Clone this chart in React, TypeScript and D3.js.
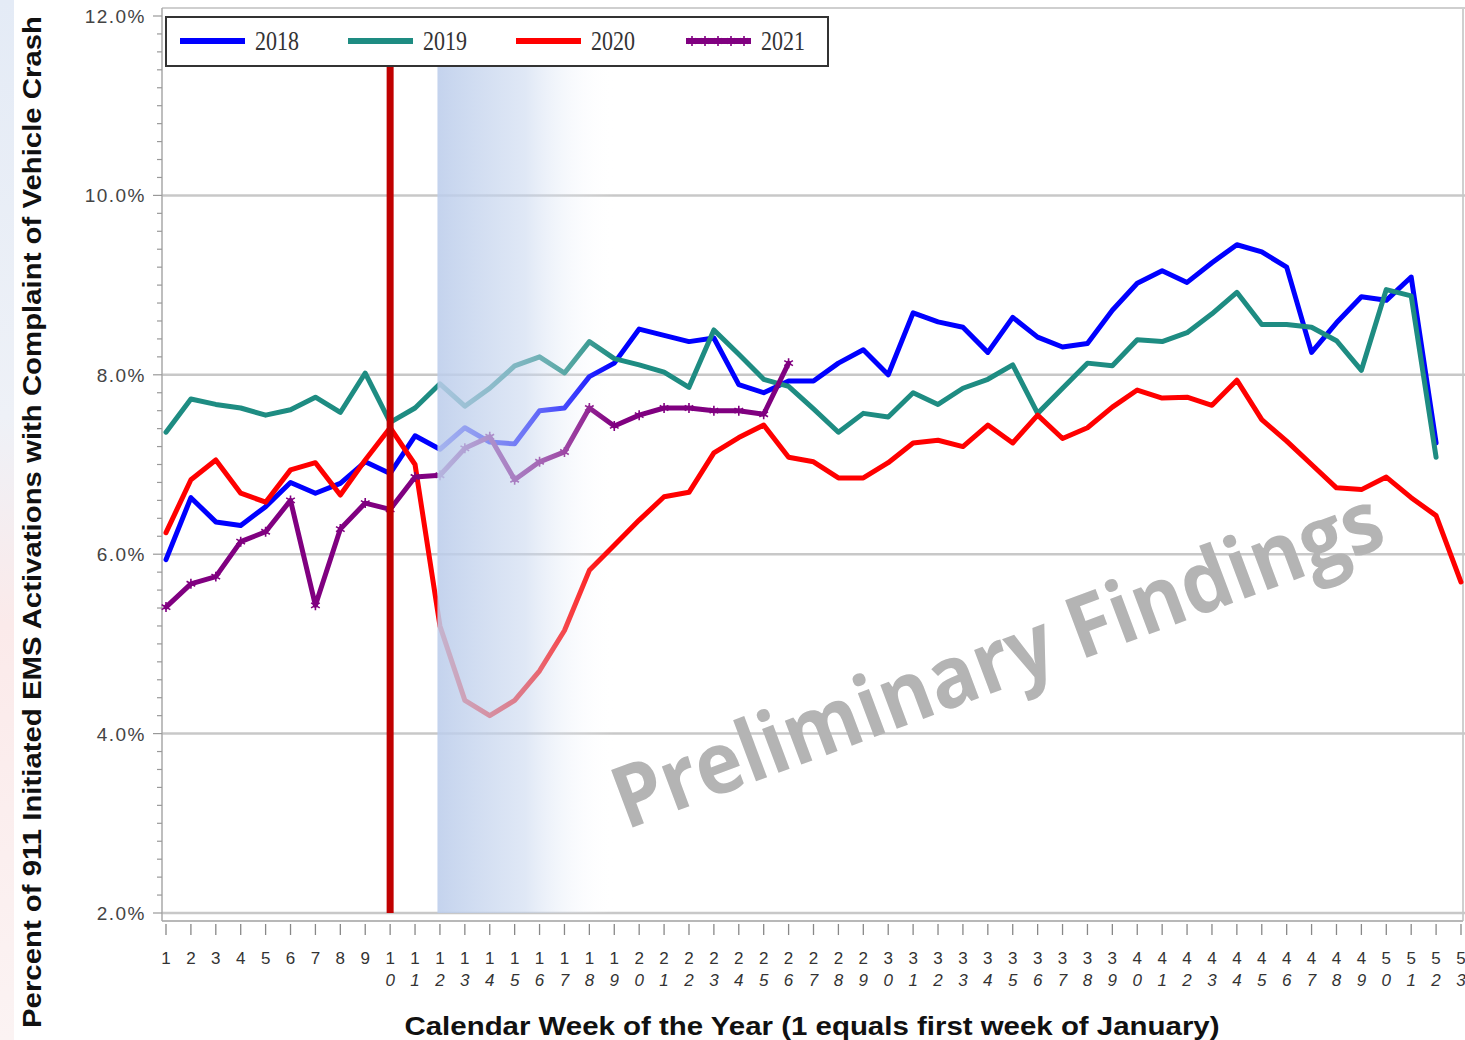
import * as d3 from "d3";
import {useEffect, useRef} from "react";

// weekly percent of 911-initiated EMS activations with vehicle-crash complaint
const weeks = d3.range(1, 54);
const years = ["2018", "2019", "2020", "2021"];
const colors = ["#0000ff", "#1e8c82", "#ff0000", "#800080"];

const pct2018 = [5.94, 6.63, 6.36, 6.32, 6.53, 6.8, 6.68, 6.79, 7.03, 6.9, 7.32, 7.17, 7.41, 7.25, 7.23, 7.6, 7.63, 7.98, 8.13, 8.51,
    8.44, 8.37, 8.41, 7.89, 7.8, 7.93, 7.93, 8.13, 8.28, 8.0, 8.69, 8.59, 8.53, 8.25, 8.64, 8.42, 8.31, 8.35, 8.72, 9.02,
    9.16, 9.03, 9.25, 9.45, 9.37, 9.2, 8.25, 8.58, 8.87, 8.83, 9.09, 7.24];
const pct2019 = [7.36, 7.73, 7.67, 7.63, 7.55, 7.61, 7.75, 7.58, 8.02, 7.47, 7.63, 7.9, 7.65, 7.85, 8.1, 8.2, 8.02, 8.37, 8.18, 8.11,
    8.03, 7.86, 8.5, 8.23, 7.95, 7.87, 7.62, 7.36, 7.57, 7.53, 7.8, 7.67, 7.85, 7.95, 8.11, 7.57, 7.85, 8.13, 8.1, 8.39,
    8.37, 8.47, 8.68, 8.92, 8.56, 8.56, 8.53, 8.38, 8.05, 8.95, 8.88, 7.08];
const pct2020 = [6.24, 6.83, 7.05, 6.68, 6.58, 6.94, 7.02, 6.66, 7.05, 7.41, 7.0, 5.2, 4.37, 4.2, 4.37, 4.7, 5.15, 5.82, 6.1, 6.38,
    6.64, 6.69, 7.13, 7.3, 7.44, 7.08, 7.03, 6.85, 6.85, 7.02, 7.24, 7.27, 7.2, 7.44, 7.24, 7.55, 7.29, 7.41, 7.64, 7.83,
    7.74, 7.75, 7.66, 7.94, 7.5, 7.26, 7.0, 6.74, 6.72, 6.86, 6.63, 6.43, 5.69];
const pct2021 = [5.41, 5.67, 5.75, 6.14, 6.25, 6.6, 5.43, 6.28, 6.57, 6.5, 6.86, 6.88, 7.18, 7.31, 6.83, 7.03, 7.14, 7.63, 7.43, 7.55,
    7.63, 7.63, 7.6, 7.6, 7.56, 8.13];

const yTicks = [2, 4, 6, 8, 10, 12];
const stayHomeWeek = 10;
const shadeFrom = 11.9;
const shadeTo = 19;

export default function App() {
    const ref = useRef<SVGSVGElement>(null);

    useEffect(() => {
        const svg = d3.select(ref.current);
        svg.selectAll("*").remove();

        const x = d3.scaleLinear().domain([1, 53]).range([166, 1461]);
        const y = d3.scaleLinear().domain([2, 12]).range([913, 16]);
        const left = 162, right = 1463, top = 8, bottom = 921;
        const legendBottom = 66;
        const sans = "'Liberation Sans', Arial, sans-serif";

        const defs = svg.append("defs");
        const shade = defs.append("linearGradient").attr("id", "shade").attr("x1", 0).attr("x2", 1).attr("y1", 0).attr("y2", 0);
        shade.append("stop").attr("offset", 0).attr("stop-color", "#bccdeb").attr("stop-opacity", 0.88);
        shade.append("stop").attr("offset", 0.5).attr("stop-color", "#c6d5ee").attr("stop-opacity", 0.55);
        shade.append("stop").attr("offset", 1).attr("stop-color", "#ffffff").attr("stop-opacity", 0);
        const strip = defs.append("linearGradient").attr("id", "strip").attr("x1", 0).attr("x2", 0).attr("y1", 0).attr("y2", 1);
        strip.append("stop").attr("offset", 0).attr("stop-color", "#e4ebf6");
        strip.append("stop").attr("offset", 0.4).attr("stop-color", "#eef1f7");
        strip.append("stop").attr("offset", 0.6).attr("stop-color", "#fbeaea");
        strip.append("stop").attr("offset", 1).attr("stop-color", "#fbf3f3");

        svg.append("rect").attr("width", 1465).attr("height", 1040).attr("fill", "#fff");
        svg.append("rect").attr("width", 14).attr("height", 1040).attr("fill", "url(#strip)");

        // frame + grid
        svg.append("line").attr("x1", left).attr("x2", 1465).attr("y1", top).attr("y2", top)
            .attr("stroke", "#cfcfcf").attr("stroke-width", 2);
        svg.append("line").attr("x1", right).attr("x2", right).attr("y1", top).attr("y2", bottom)
            .attr("stroke", "#cfcfcf").attr("stroke-width", 2);
        svg.append("g").selectAll("line").data(yTicks.filter(v => v < 12)).join("line")
            .attr("x1", left).attr("x2", 1465).attr("y1", d => y(d)).attr("y2", d => y(d))
            .attr("stroke", "#c8c8c8").attr("stroke-width", 2.5);
        svg.append("line").attr("x1", left).attr("x2", right).attr("y1", bottom).attr("y2", bottom)
            .attr("stroke", "#b8b8b8").attr("stroke-width", 2);

        // y axis
        svg.append("line").attr("x1", left).attr("x2", left).attr("y1", top).attr("y2", bottom)
            .attr("stroke", "#a8a8a8").attr("stroke-width", 1.5);
        svg.append("g").selectAll("line").data(d3.range(2, 12.001, 0.2)).join("line")
            .attr("x1", d => yTicks.some(t => Math.abs(t - d) < 1e-6) ? left - 9 : left - 5).attr("x2", left)
            .attr("y1", d => y(d)).attr("y2", d => y(d))
            .attr("stroke", "#999").attr("stroke-width", 1.2);
        svg.append("g").selectAll("text").data(yTicks).join("text")
            .attr("x", 146).attr("y", d => y(d) + 7)
            .attr("text-anchor", "end").attr("font-family", sans).attr("font-size", 19)
            .attr("letter-spacing", 1.5).attr("fill", "#444")
            .text(d => d3.format(".1f")(d) + "%");

        // x axis ticks, two-row labels
        svg.append("g").selectAll("line").data(weeks).join("line")
            .attr("x1", d => x(d)).attr("x2", d => x(d)).attr("y1", bottom + 3).attr("y2", bottom + 14)
            .attr("stroke", "#888").attr("stroke-width", 1.3);
        const xl = svg.append("g").attr("font-family", sans).attr("font-size", 17).attr("fill", "#333")
            .attr("text-anchor", "middle");
        weeks.forEach(w => {
            const s = String(w);
            xl.append("text").attr("x", x(w)).attr("y", 964).text(s[0]);
            if (s.length > 1) {
                xl.append("text").attr("x", x(w)).attr("y", 986).attr("font-style", "italic").text(s[1]);
            }
        });

        // series
        const line = d3.line<number>().x((_, i) => x(weeks[i])).y(d => y(d));
        [pct2018, pct2019, pct2020, pct2021].forEach((s, i) => {
            svg.append("path").attr("d", line(s)).attr("fill", "none")
                .attr("stroke", colors[i]).attr("stroke-width", 5)
                .attr("stroke-linejoin", "round").attr("stroke-linecap", "round");
        });
        const star = d3.symbol(d3.symbolAsterisk, 70);
        svg.append("g").selectAll("path").data(pct2021).join("path")
            .attr("transform", (d, i) => `translate(${x(weeks[i])},${y(d)})`)
            .attr("d", star()).attr("fill", "none").attr("stroke", colors[3]).attr("stroke-width", 1.6);

        // stay-at-home marker and shaded period
        svg.append("line").attr("x1", x(stayHomeWeek)).attr("x2", x(stayHomeWeek)).attr("y1", legendBottom).attr("y2", y(2))
            .attr("stroke", "#c00000").attr("stroke-width", 7);
        svg.append("rect").attr("x", x(shadeFrom)).attr("y", legendBottom)
            .attr("width", x(shadeTo) - x(shadeFrom)).attr("height", y(2) - legendBottom)
            .attr("fill", "url(#shade)");

        // legend
        svg.append("rect").attr("x", 166).attr("y", 17).attr("width", 662).attr("height", legendBottom - 17)
            .attr("fill", "#fff").attr("stroke", "#333").attr("stroke-width", 2);
        const lx = [180, 348, 516, 686];
        years.forEach((yr, i) => {
            svg.append("line").attr("x1", lx[i]).attr("x2", lx[i] + 65).attr("y1", 41).attr("y2", 41)
                .attr("stroke", colors[i]).attr("stroke-width", 6);
            if (i === 3) {
                svg.append("g").selectAll("path").data([0, 1, 2, 3, 4]).join("path")
                    .attr("transform", d => `translate(${lx[i] + 6 + d * 13},41)`)
                    .attr("d", star()).attr("fill", "none").attr("stroke", colors[i]).attr("stroke-width", 1.6);
            }
            svg.append("text").attr("x", lx[i] + 75).attr("y", 50)
                .attr("font-family", "'Liberation Serif', 'Times New Roman', serif").attr("font-size", 27)
                .attr("textLength", 44).attr("lengthAdjust", "spacingAndGlyphs")
                .attr("fill", "#333").text(yr);
        });

        // watermark
        svg.append("text").attr("transform", "translate(626,830) rotate(-20.5)")
            .attr("font-family", "'Open Sans', sans-serif").attr("font-weight", 700).attr("font-size", 86)
            .attr("textLength", 815).attr("lengthAdjust", "spacingAndGlyphs")
            .attr("fill", "#b4b4b4").text("Preliminary Findings");

        // titles
        svg.append("text").attr("x", 812).attr("y", 1035).attr("text-anchor", "middle")
            .attr("font-family", sans).attr("font-weight", 700).attr("font-size", 26)
            .attr("textLength", 815).attr("lengthAdjust", "spacingAndGlyphs")
            .attr("fill", "#111").text("Calendar Week of the Year (1 equals first week of January)");
        svg.append("text").attr("transform", "translate(41,522) rotate(-90)").attr("text-anchor", "middle")
            .attr("font-family", sans).attr("font-weight", 700).attr("font-size", 26)
            .attr("textLength", 1012).attr("lengthAdjust", "spacingAndGlyphs")
            .attr("fill", "#111").text("Percent of 911 Initiated EMS Activations with Complaint of Vehicle Crash");
    }, []);

    return <svg ref={ref} width={1465} height={1040} style={{position: "absolute", left: 0, top: 0}}/>;
}
